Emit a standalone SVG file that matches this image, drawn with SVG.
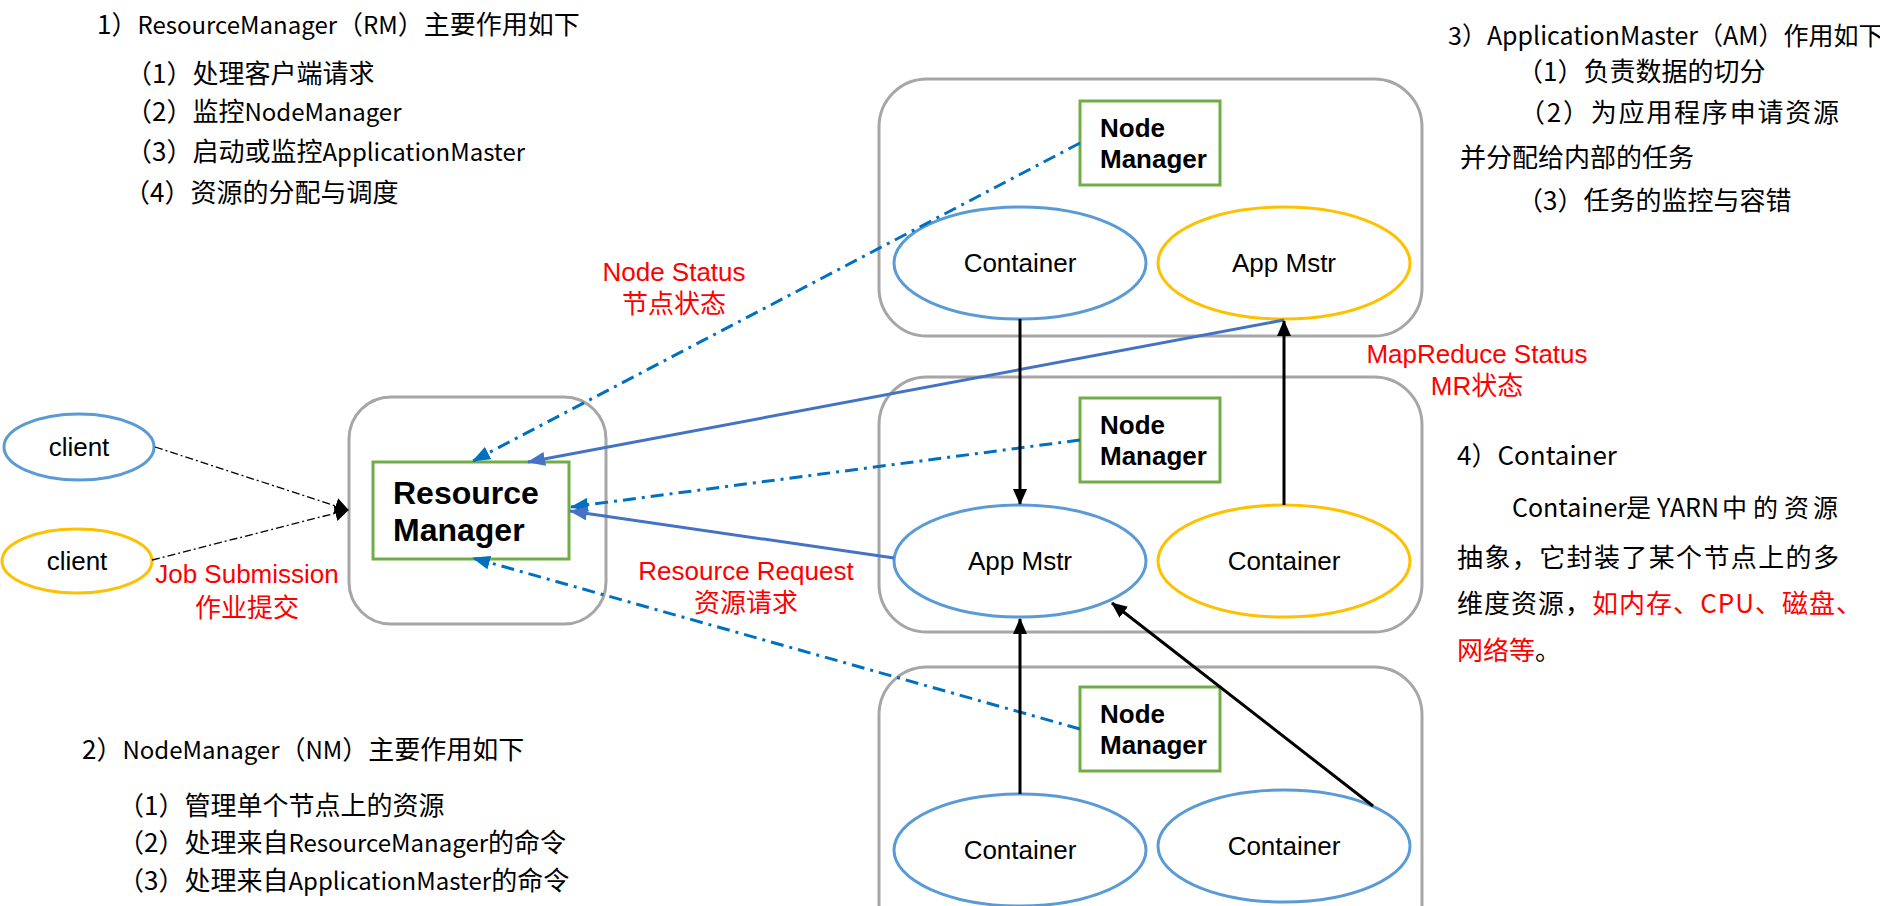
<svg xmlns="http://www.w3.org/2000/svg" width="1880" height="906" viewBox="0 0 1880 906">
<style>
.ann{font-family:"Noto Sans CJK SC","Noto Sans",sans-serif;font-size:26px;fill:#000}
.lat{font-size:24px}
.red{fill:#FF0000}
.lbl{font-family:"Liberation Sans","Noto Sans CJK SC",sans-serif;font-size:26px;fill:#FF0000;text-anchor:middle}
.nm{font-family:"Liberation Sans",Arial,sans-serif;font-weight:bold;font-size:26px;fill:#000}
.rm{font-family:"Liberation Sans",Arial,sans-serif;font-weight:bold;font-size:32px;fill:#000}
.el{font-family:"Liberation Sans",Arial,sans-serif;font-size:26px;fill:#000;text-anchor:middle}
.box{fill:#fff;stroke:#A6A6A6;stroke-width:3}
.green{fill:#fff;stroke:#70AD47;stroke-width:3}
.eb{fill:#fff;stroke:#5B9BD5;stroke-width:3}
.ey{fill:#fff;stroke:#FFC000;stroke-width:3}
.dd{fill:none;stroke:#0070C0;stroke-width:3;stroke-dasharray:13 6 3 6}
.sb{fill:none;stroke:#4472C4;stroke-width:3}
.bk{fill:none;stroke:#000;stroke-width:3}
.cl{fill:none;stroke:#000;stroke-width:1.3;stroke-dasharray:8 3 2 3}
</style>
<defs>
<marker id="mBlue" markerUnits="userSpaceOnUse" markerWidth="18" markerHeight="14" viewBox="0 0 18 14" refX="17" refY="7" orient="auto"><path d="M0,0 L18,7 L0,14 z" fill="#0070C0"/></marker>
<marker id="mSolid" markerUnits="userSpaceOnUse" markerWidth="18" markerHeight="14" viewBox="0 0 18 14" refX="17" refY="7" orient="auto"><path d="M0,0 L18,7 L0,14 z" fill="#4472C4"/></marker>
<marker id="mBlack" markerUnits="userSpaceOnUse" markerWidth="16" markerHeight="14" viewBox="0 0 16 14" refX="15" refY="7" orient="auto"><path d="M0,0 L16,7 L0,14 z" fill="#000"/></marker>
<marker id="mClient" markerUnits="userSpaceOnUse" markerWidth="14" markerHeight="16" viewBox="0 0 14 16" refX="13" refY="8" orient="auto"><path d="M0,0 L14,8 L0,16 z" fill="#000"/></marker>
</defs>
<rect width="1880" height="906" fill="#fff"/>

<g id="text-rm">
<text class="ann" x="97" y="34">1）<tspan class="lat">ResourceManager</tspan>（<tspan class="lat">RM</tspan>）主要作用如下</text>
<text class="ann" x="126" y="83">（1）处理客户端请求</text>
<text class="ann" x="126" y="121">（2）监控<tspan class="lat">NodeManager</tspan></text>
<text class="ann" x="126" y="161">（3）启动或监控<tspan class="lat">ApplicationMaster</tspan></text>
<text class="ann" x="124" y="202">（4）资源的分配与调度</text>
</g>
<g id="text-nm">
<text class="ann" x="82" y="759">2）<tspan class="lat">NodeManager</tspan>（<tspan class="lat">NM</tspan>）主要作用如下</text>
<text class="ann" x="118" y="815">（1）管理单个节点上的资源</text>
<text class="ann" x="118" y="852">（2）处理来自<tspan class="lat">ResourceManager</tspan>的命令</text>
<text class="ann" x="118" y="890">（3）处理来自<tspan class="lat">ApplicationMaster</tspan>的命令</text>
</g>
<g id="text-am">
<text class="ann" x="1448" y="45" style="font-size:25px">3）ApplicationMaster（AM）作用如下</text>
<text class="ann" x="1517" y="81">（1）负责数据的切分</text>
<text class="ann" x="1519" y="122" textLength="320" lengthAdjust="spacing">（2）为应用程序申请资源</text>
<text class="ann" x="1460" y="167">并分配给内部的任务</text>
<text class="ann" x="1517" y="210">（3）任务的监控与容错</text>
</g>
<g id="text-container">
<text class="ann" x="1457" y="465">4）Container</text>
<text class="ann" y="517" style="font-size:25px"><tspan x="1512">Container</tspan><tspan x="1626">是</tspan><tspan x="1657">YARN</tspan><tspan x="1722">中</tspan><tspan x="1753">的</tspan><tspan x="1784">资</tspan><tspan x="1813">源</tspan></text>
<text class="ann" x="1457" y="567" textLength="382" lengthAdjust="spacing">抽象，它封装了某个节点上的多</text>
<text class="ann" x="1457" y="613" textLength="405" lengthAdjust="spacing">维度资源，<tspan class="red">如内存、CPU、磁盘、</tspan></text>
<text class="ann" x="1457" y="660"><tspan class="red">网络等</tspan>。</text>
</g>

<g id="rm-box"><rect class="box" x="349" y="397" width="257" height="227" rx="42"/></g>
<g id="node-top-box"><rect class="box" x="879" y="79" width="543" height="257" rx="48"/></g>
<g id="node-mid-box"><rect class="box" x="879" y="377" width="543" height="255" rx="48"/></g>
<g id="node-bot-box"><rect class="box" x="879" y="667" width="543" height="290" rx="48"/></g>

<g id="resource-manager">
<rect class="green" x="373" y="462" width="196" height="97"/>
<text class="rm" x="393" y="504">Resource</text>
<text class="rm" x="393" y="541">Manager</text>
</g>
<g id="nm-top">
<rect class="green" x="1080" y="101" width="140" height="84"/>
<text class="nm" x="1100" y="137">Node</text>
<text class="nm" x="1100" y="168">Manager</text>
</g>
<g id="nm-mid">
<rect class="green" x="1080" y="398" width="140" height="84"/>
<text class="nm" x="1100" y="434">Node</text>
<text class="nm" x="1100" y="465">Manager</text>
</g>
<g id="nm-bot">
<rect class="green" x="1080" y="687" width="140" height="84"/>
<text class="nm" x="1100" y="723">Node</text>
<text class="nm" x="1100" y="754">Manager</text>
</g>

<g id="client-1"><ellipse class="eb" cx="79" cy="447" rx="75" ry="33"/><text class="el" x="79" y="456">client</text></g>
<g id="client-2"><ellipse class="ey" cx="77" cy="561" rx="75" ry="32"/><text class="el" x="77" y="570">client</text></g>

<g id="top-container"><ellipse class="eb" cx="1020" cy="263" rx="126" ry="56"/><text class="el" x="1020" y="272">Container</text></g>
<g id="top-appmstr"><ellipse class="ey" cx="1284" cy="263" rx="126" ry="56"/><text class="el" x="1284" y="272">App Mstr</text></g>
<g id="mid-appmstr"><ellipse class="eb" cx="1020" cy="561" rx="126" ry="56"/><text class="el" x="1020" y="570">App Mstr</text></g>
<g id="mid-container"><ellipse class="ey" cx="1284" cy="561" rx="126" ry="56"/><text class="el" x="1284" y="570">Container</text></g>
<g id="bot-container-1"><ellipse class="eb" cx="1020" cy="850" rx="126" ry="56"/><text class="el" x="1020" y="859">Container</text></g>
<g id="bot-container-2"><ellipse class="eb" cx="1284" cy="846" rx="126" ry="56"/><text class="el" x="1284" y="855">Container</text></g>

<g id="connectors">
<line class="cl" x1="155" y1="447" x2="348" y2="510" marker-end="url(#mClient)"/>
<line class="cl" x1="152" y1="560" x2="348" y2="510" marker-end="url(#mClient)"/>
<line class="dd" x1="1080" y1="143" x2="473" y2="461" marker-end="url(#mBlue)"/>
<line class="dd" x1="1080" y1="440" x2="571" y2="507" marker-end="url(#mBlue)"/>
<line class="dd" x1="1080" y1="729" x2="473" y2="558" marker-end="url(#mBlue)"/>
<line class="sb" x1="1284" y1="320" x2="528" y2="462" marker-end="url(#mSolid)"/>
<line class="sb" x1="894" y1="558" x2="570" y2="511" marker-end="url(#mSolid)"/>
<line class="bk" x1="1020" y1="319" x2="1020" y2="504" marker-end="url(#mBlack)"/>
<line class="bk" x1="1284" y1="505" x2="1284" y2="321" marker-end="url(#mBlack)"/>
<line class="bk" x1="1020" y1="794" x2="1020" y2="619" marker-end="url(#mBlack)"/>
<line class="bk" x1="1373" y1="806" x2="1112" y2="603" marker-end="url(#mBlack)"/>
</g>

<g id="labels">
<text class="lbl" x="674" y="281">Node Status</text>
<text class="lbl" x="674" y="313">节点状态</text>
<text class="lbl" x="1477" y="363">MapReduce Status</text>
<text class="lbl" x="1477" y="395">MR状态</text>
<text class="lbl" x="247" y="583">Job Submission</text>
<text class="lbl" x="247" y="617">作业提交</text>
<text class="lbl" x="746" y="580">Resource Request</text>
<text class="lbl" x="746" y="612">资源请求</text>
</g>
</svg>
